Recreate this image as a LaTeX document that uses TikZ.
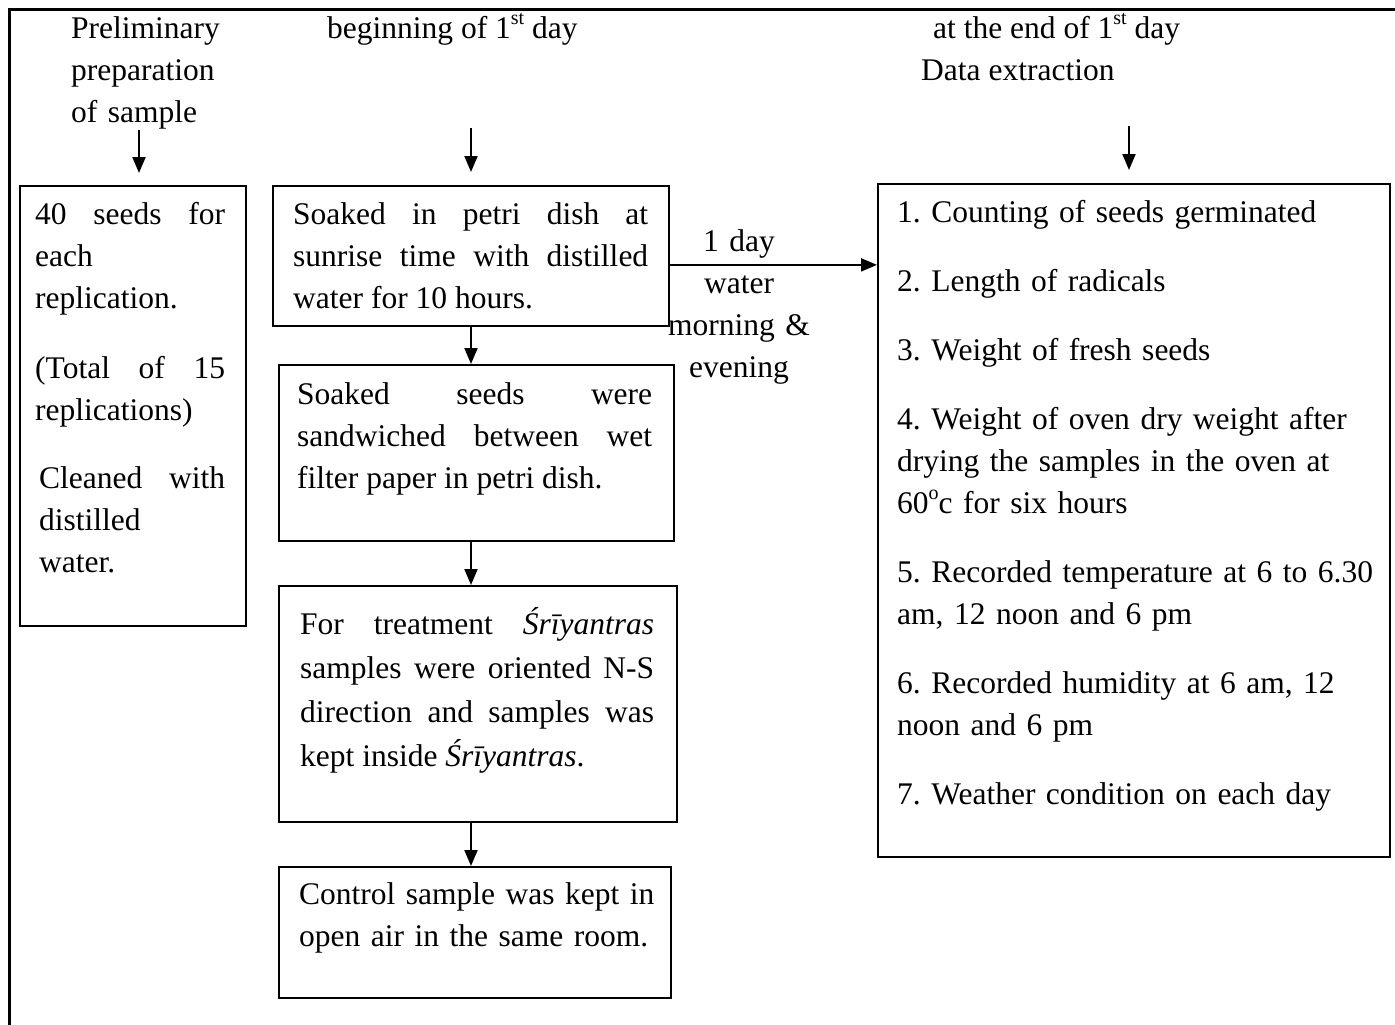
\documentclass[tikz,border=0pt]{standalone}
\usepackage{fontspec}
\setmainfont{Liberation Serif}
\usetikzlibrary{arrows.meta}
\setlength{\parindent}{0pt}
\setlength{\parskip}{0pt}
\frenchspacing
\newcommand\supx[1]{\raisebox{0.42em}{\fontsize{20}{20}\selectfont #1}}
\begin{document}
\begin{tikzpicture}[x=1pt,y=-1pt,
  box/.style={draw, line width=1.8pt, inner sep=0pt, anchor=north west},
  txt/.style={inner sep=0pt, anchor=north west, font=\fontsize{31.5}{42}\selectfont\frenchspacing},
  arr/.style={line width=2pt, -{Triangle[length=16pt,width=13pt]}}]
\useasboundingbox (0,0) rectangle (1395,1025);
% outer frame (left and top edges visible)
\draw[line width=3pt] (9,1025) -- (9,10) -- (1395,10);

% boxes
\node[box, minimum width=226pt, minimum height=440pt] (A) at (19,185) {};
\node[box, minimum width=396pt, minimum height=140pt] (B) at (272,185) {};
\node[box, minimum width=395pt, minimum height=176pt] (C) at (278,364) {};
\node[box, minimum width=398pt, minimum height=236pt] (D) at (278,585) {};
\node[box, minimum width=392pt, minimum height=131pt] (E) at (278,866) {};
\node[box, minimum width=512pt, minimum height=673pt] (F) at (877,183) {};

% headers
\node[txt, text width=200pt, align=left] (h1) at (71,8.6) {\strut Preliminary\\preparation\\of sample};
\node[txt] (h2) at (327,8.6) {\strut beginning of 1\supx{st} day};
\node[txt] (h3) at (933,8.6) {\strut at the end of 1\supx{st} day};
\node[txt] (h4) at (921,50.6) {\strut Data extraction};

% box texts
\node[txt, text width=190pt, align=justify] (tA) at (35,194.6) {\strut 40 seeds for\linebreak each\newline replication.\par\vspace{28pt}(Total of 15\linebreak replications)\par\vspace{26pt}{\leftskip=4pt Cleaned with\linebreak distilled\newline water.\par}};
\node[txt, text width=355pt, align=justify] (tB) at (293,194.6) {\strut Soaked in petri dish at\linebreak sunrise time with distilled\linebreak water for 10 hours.};
\node[txt, text width=355pt, align=justify] (tC) at (297,374.6) {\strut Soaked seeds were\linebreak sandwiched between wet\linebreak filter paper in petri dish.};
\node[txt, font=\fontsize{31.5}{44}\selectfont, text width=354pt, align=justify] (tD) at (300,603.2) {\strut For treatment \textit{Śrīyantras}\linebreak samples were oriented N-S\linebreak direction and samples was\linebreak kept inside \textit{Śrīyantras}.};
\node[txt, text width=370pt, align=left] (tE) at (299,875) {\strut Control sample was kept in\\open air in the same room.};
\node[txt, text width=485pt, align=left] (tF) at (897,192.6) {\strut 1. Counting of seeds germinated\\[27pt]
2. Length of radicals\\[27pt]
3. Weight of fresh seeds\\[27pt]
4. Weight of oven dry weight after\\
drying the samples in the oven at\\
60\supx{o}c for six hours\\[27pt]
5. Recorded temperature at 6 to 6.30\\
am, 12 noon and 6 pm\\[27pt]
6. Recorded humidity at 6 am, 12\\
noon and 6 pm\\[27pt]
7. Weather condition on each day};

% label of the horizontal connector
\node[txt, anchor=north, text width=160pt, align=center] (lbl) at (739,221.6) {\strut 1 day\\water\\morning \&\\evening};

% connectors
\coordinate (a1) at (139,130);
\coordinate (a2) at (471,128);
\coordinate (a3) at (1129,126);
\draw[arr, shorten >=12pt] (a1) -- (a1 |- A.north);
\draw[arr, shorten >=13pt] (a2) -- (a2 |- B.north);
\draw[arr, shorten >=13pt] (a3) -- (a3 |- F.north);
\draw[arr] (a2 |- B.south) -- (a2 |- C.north);
\draw[arr] (a2 |- C.south) -- (a2 |- D.north);
\draw[arr] (a2 |- D.south) -- (a2 |- E.north);
\draw[arr] ([yshift=-9pt]B.east) -- ([yshift=-9pt]B.east -| F.west);
\end{tikzpicture}
\end{document}
